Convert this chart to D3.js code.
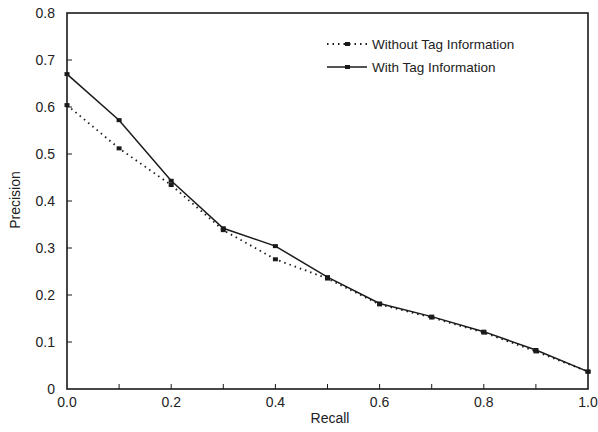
<!DOCTYPE html>
<html>
<head>
<meta charset="utf-8">
<script src="https://d3js.org/d3.v7.min.js"></script>
<style>
  body { margin: 0; background: #fff; }
  text { font-family: "Liberation Sans", Arial, sans-serif; fill: #222; }
</style>
</head>
<body>
<div id="chart"></div>
<script>
// data
var recall = [0.0, 0.1, 0.2, 0.3, 0.4, 0.5, 0.6, 0.7, 0.8, 0.9, 1.0];
var withoutTag = [0.604, 0.512, 0.434, 0.338, 0.276, 0.235, 0.18, 0.152, 0.12, 0.08, 0.037];
var withTag = [0.670, 0.572, 0.443, 0.342, 0.304, 0.238, 0.182, 0.154, 0.122, 0.083, 0.037];
var xTicks = [0.0, 0.2, 0.4, 0.6, 0.8, 1.0];
var yTicks = [0, 0.1, 0.2, 0.3, 0.4, 0.5, 0.6, 0.7, 0.8];
var seriesNames = ["Without Tag Information", "With Tag Information"];

var width = 598, height = 432;
var margin = { top: 13, right: 10, bottom: 43, left: 67 };

var svg = d3.select("#chart").append("svg")
  .attr("width", width)
  .attr("height", height);

var x = d3.scaleLinear().domain([0, 1]).range([margin.left, width - margin.right]);
var y = d3.scaleLinear().domain([0, 0.8]).range([height - margin.bottom, margin.top]);

var ink = "#1a1a1a";

// frame
svg.append("rect")
  .attr("x", x(0)).attr("y", y(0.8))
  .attr("width", x(1) - x(0)).attr("height", y(0) - y(0.8))
  .attr("fill", "none").attr("stroke", ink).attr("stroke-width", 1.6);

// x axis ticks (inside, every 0.1)
svg.append("g").selectAll("line")
  .data(d3.range(1, 10).map(function (i) { return i / 10; }))
  .enter().append("line")
  .attr("x1", function (d) { return x(d); }).attr("x2", function (d) { return x(d); })
  .attr("y1", y(0)).attr("y2", y(0) - 5)
  .attr("stroke", ink).attr("stroke-width", 1);

svg.append("g").selectAll("text")
  .data(xTicks).enter().append("text")
  .attr("x", function (d) { return x(d); })
  .attr("y", y(0) + 18)
  .attr("text-anchor", "middle")
  .style("font-size", "14px")
  .text(function (d) { return d.toFixed(1); });

// y axis ticks
svg.append("g").selectAll("line")
  .data(yTicks.slice(1, -1)).enter().append("line")
  .attr("x1", x(0)).attr("x2", x(0) + 5)
  .attr("y1", function (d) { return y(d); }).attr("y2", function (d) { return y(d); })
  .attr("stroke", ink).attr("stroke-width", 1);

svg.append("g").selectAll("text")
  .data(yTicks).enter().append("text")
  .attr("x", x(0) - 12)
  .attr("y", function (d) { return y(d) + 5; })
  .attr("text-anchor", "end")
  .style("font-size", "14px")
  .text(function (d) { return d === 0 ? "0" : d.toFixed(1); });

// axis titles
svg.append("text")
  .attr("x", 330).attr("y", 423)
  .attr("text-anchor", "middle")
  .style("font-size", "14px")
  .text("Recall");

svg.append("text")
  .attr("transform", "translate(20," + 200 + ") rotate(-90)")
  .attr("text-anchor", "middle")
  .style("font-size", "14px")
  .text("Precision");

// lines
var series = [
  { name: seriesNames[0], values: withoutTag, dash: "1.5,4", width: 1.8 },
  { name: seriesNames[1], values: withTag, dash: null, width: 1.5 }
];

var line = d3.line()
  .x(function (d, i) { return x(recall[i]); })
  .y(function (d) { return y(d); });

series.forEach(function (s) {
  svg.append("path")
    .datum(s.values)
    .attr("d", line)
    .attr("fill", "none")
    .attr("stroke", ink)
    .attr("stroke-width", s.width)
    .attr("stroke-dasharray", s.dash);

  svg.append("g").selectAll("rect")
    .data(s.values).enter().append("rect")
    .attr("x", function (d, i) { return x(recall[i]) - 2.5; })
    .attr("y", function (d) { return y(d) - 2; })
    .attr("width", 5).attr("height", 4)
    .attr("fill", ink);
});

// legend
var legend = svg.append("g").attr("transform", "translate(327,44)");
series.forEach(function (s, i) {
  var g = legend.append("g").attr("transform", "translate(0," + (i * 23) + ")");
  g.append("line")
    .attr("x1", 0).attr("x2", 40).attr("y1", 0).attr("y2", 0)
    .attr("stroke", ink).attr("stroke-width", s.width)
    .attr("stroke-dasharray", s.dash);
  g.append("rect").attr("x", 18).attr("y", -2).attr("width", 5).attr("height", 4).attr("fill", ink);
  g.append("text")
    .attr("x", 45).attr("y", 5)
    .style("font-size", "13.5px")
    .text(s.name);
});
</script>
</body>
</html>
